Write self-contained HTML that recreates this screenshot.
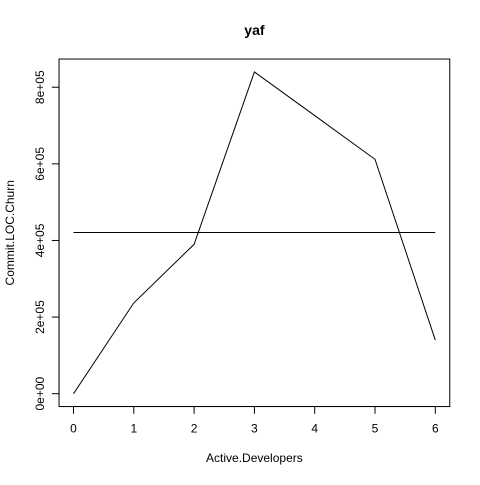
<!DOCTYPE html>
<html><head><meta charset="utf-8"><style>
html,body{margin:0;padding:0;background:#fff;}
svg text{font-family:"Liberation Sans",sans-serif;fill:#000;}
</style></head><body>
<svg id="chart" width="480" height="480" viewBox="0 0 480 480">
<rect width="480" height="480" fill="#fff"/>
<text x="254.4" y="35" font-size="14" font-weight="bold" text-anchor="middle">yaf</text>
<rect x="59.04" y="59.04" width="390.72" height="347.52" fill="none" stroke="#000" stroke-width="1"/>
<g id="xaxis"></g>
<g id="yaxis"></g>
<g id="series"></g>
<text x="254.4" y="462" font-size="12" text-anchor="middle">Active.Developers</text>
<text transform="translate(14,232.8) rotate(-90)" font-size="12" text-anchor="middle">Commit.LOC.Churn</text>
</svg>
<script>
const categories = [0, 1, 2, 3, 4, 5, 6];
const churnValues = [0, 237000, 390000, 840000, 726000, 612000, 140000];
const meanValue = [420700];
const xTicks = [0, 1, 2, 3, 4, 5, 6];
const yTicks = [0, 200000, 400000, 600000, 800000];
const yTickLabels = ["0e+00", "2e+05", "4e+05", "6e+05", "8e+05"];

const NS = "http://www.w3.org/2000/svg";
const L = 59.04, R = 449.76, T = 59.04, B = 406.56;
const xmin = Math.min(...categories), xmax = Math.max(...categories);
const ymin = Math.min(...churnValues), ymax = Math.max(...churnValues);
const xr = xmax - xmin, yr = ymax - ymin;
const x0 = xmin - 0.04 * xr, x1 = xmax + 0.04 * xr;
const y0 = ymin - 0.04 * yr, y1 = ymax + 0.04 * yr;
function sx(v){ return L + (v - x0) / (x1 - x0) * (R - L); }
function sy(v){ return B - (v - y0) / (y1 - y0) * (B - T); }
function mk(tag, attrs, parent){
  const e = document.createElementNS(NS, tag);
  for (const k in attrs) e.setAttribute(k, attrs[k]);
  parent.appendChild(e);
  return e;
}
const xg = document.getElementById("xaxis");
const yg = document.getElementById("yaxis");
const sg = document.getElementById("series");

const xl = mk("line", {x1: sx(xTicks[0]), x2: sx(xTicks[xTicks.length-1]), y1: B, y2: B, stroke: "#000"}, xg);


xTicks.forEach(t => {
  const tk = mk("line", {x1: sx(t), x2: sx(t), y1: B, y2: B + 7.2, stroke: "#000"}, xg);
  
  
  const tx = mk("text", {x: sx(t), y: B + 26, "font-size": 12, "text-anchor": "middle"}, xg);
  tx.textContent = t;
  
  
});

const yl = mk("line", {x1: L, x2: L, y1: sy(yTicks[0]), y2: sy(yTicks[yTicks.length-1]), stroke: "#000"}, yg);


yTicks.forEach((t, i) => {
  const tk = mk("line", {x1: L - 7.2, x2: L, y1: sy(t), y2: sy(t), stroke: "#000"}, yg);
  
  
  const tx = mk("text", {transform: "translate(" + (L - 15) + "," + sy(t) + ") rotate(-90)", "font-size": 12, "text-anchor": "middle"}, yg);
  tx.textContent = yTickLabels[i];
  
  
});

const pts = categories.map((c, i) => sx(c).toFixed(2) + "," + sy(churnValues[i]).toFixed(2)).join(" ");
const pl = mk("polyline", {points: pts, fill: "none", stroke: "#000", "stroke-width": 1}, sg);



const ml = mk("line", {x1: sx(xmin), x2: sx(xmax), y1: sy(meanValue[0]), y2: sy(meanValue[0]), stroke: "#000", "stroke-width": 1}, sg);


</script>
</body></html>
